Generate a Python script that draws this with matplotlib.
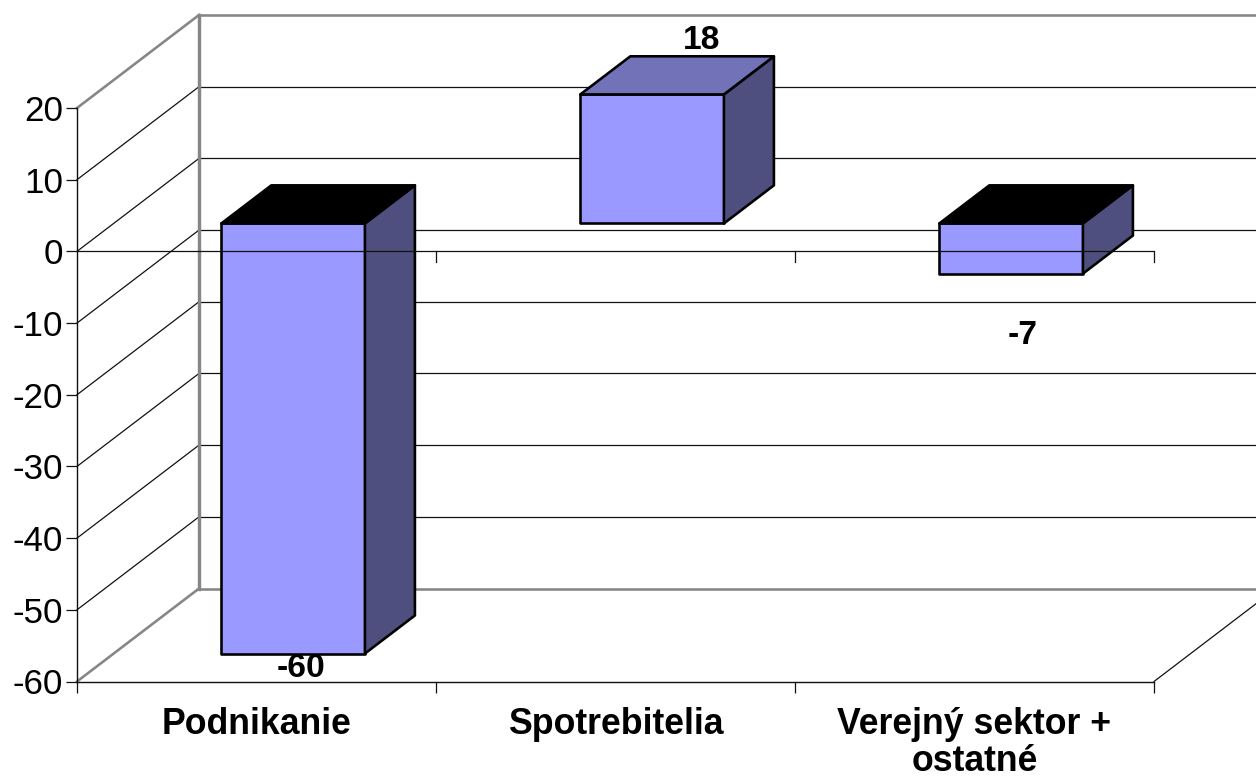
"""3D-style column chart drawn on a flat axes with a sheared depth offset."""

import matplotlib

matplotlib.use("Agg")
import matplotlib.pyplot as plt
from matplotlib.patches import Polygon

CATEGORIES = ["Podnikanie", "Spotrebitelia", "Verejný sektor +\nostatné"]
VALUES = [-60, 18, -7]
Y_TICKS = [20, 10, 0, -10, -20, -30, -40, -50, -60]

FIG_W, FIG_H = 1256, 780
AX_LEFT, AX_RIGHT, AX_TOP, AX_BOTTOM = 77, 1154, 108, 681.5

# full depth of the box, in data units
DEPTH_X = 122 / ((AX_RIGHT - AX_LEFT) / 3)
DEPTH_Y = 93 / ((AX_BOTTOM - AX_TOP) / 80)
BAR_WIDTH = 0.40
BAR_D0, BAR_D1 = 0.30, 0.71

FRONT = "#9999FF"
SIDE = "#4F4F7F"
TOP = "#7272B8"
WALL = "#868686"
THIN = "#111111"
FONT = 25.2
PX = 0.72

plt.rcParams["font.family"] = ["Liberation Sans", "DejaVu Sans"]
plt.rcParams["axes.unicode_minus"] = False


def proj(x, y, depth):
    return x + depth * DEPTH_X, y + depth * DEPTH_Y


fig = plt.figure(figsize=(FIG_W / 100, FIG_H / 100), dpi=100)
ax = fig.add_axes(
    [
        AX_LEFT / FIG_W,
        1 - AX_BOTTOM / FIG_H,
        (AX_RIGHT - AX_LEFT) / FIG_W,
        (AX_BOTTOM - AX_TOP) / FIG_H,
    ]
)
ax.set_xlim(0, 3)
ax.set_ylim(-60, 20)

# walls and gridlines
for v in Y_TICKS:
    edge = v in (20, -60)
    color = WALL if edge else THIN
    lw = 2.6 * PX if edge else 1.25 * PX
    x0, y0 = proj(0, v, 0)
    x1, y1 = proj(0, v, 1)
    x2, y2 = proj(3, v, 1)
    ax.plot([x0, x1], [y0, y1], color=color, lw=lw, clip_on=False, zorder=1)
    ax.plot([x1, x2], [y1, y2], color=color, lw=lw, clip_on=False, zorder=1)
x1, y1 = proj(0, -60, 1)
x2, y2 = proj(0, 20, 1)
ax.plot([x1, x2], [y1, y2], color=WALL, lw=3.4 * PX, clip_on=False, zorder=1.5)
x1, y1 = proj(3, -60, 1)
ax.plot([3, x1], [-60, y1], color=THIN, lw=1.25 * PX, clip_on=False, zorder=1)

# bars
for i, val in enumerate(VALUES):
    xl = i + 0.5 - BAR_WIDTH / 2
    xr = i + 0.5 + BAR_WIDTH / 2
    hi, lo = max(val, 0), min(val, 0)
    a = proj(xl, lo, BAR_D0)
    b = proj(xr, lo, BAR_D0)
    c = proj(xr, hi, BAR_D0)
    d = proj(xl, hi, BAR_D0)
    b2 = proj(xr, lo, BAR_D1)
    c2 = proj(xr, hi, BAR_D1)
    d2 = proj(xl, hi, BAR_D1)
    top_color = TOP if val > 0 else "black"
    for pts, fc in [([a, b, c, d], FRONT), ([b, b2, c2, c], SIDE), ([d, c, c2, d2], top_color)]:
        ax.add_patch(
            Polygon(pts, closed=True, facecolor=fc, edgecolor="black", lw=2.6 * PX,
                    joinstyle="round", clip_on=False, zorder=3)
        )

# zero axis runs in front of the bars
ax.axhline(0, color=THIN, lw=1.25 * PX, zorder=4)
for x in [1, 2, 3]:
    ax.plot([x, x], [0, -11 / 7.17], color=THIN, lw=1.25 * PX, clip_on=False, zorder=4)

# data labels
LABEL_POS = [(0.625, -58.2), (1.74, 29.45), (2.635, -11.7)]
for (x, y), val in zip(LABEL_POS, VALUES):
    ax.text(x, y, str(val), fontsize=FONT - 1, fontweight="bold", ha="center", va="center", zorder=5)

# real axis ticks and labels
for side in ("top", "right"):
    ax.spines[side].set_visible(False)
for side in ("left", "bottom"):
    ax.spines[side].set_linewidth(1.4 * PX)
    ax.spines[side].set_color(THIN)
    ax.spines[side].set_zorder(4)
ax.patch.set_visible(False)

ax.set_yticks(Y_TICKS)
ax.tick_params(axis="y", length=11 * PX, width=1.25 * PX, color=THIN, labelsize=FONT, pad=3 * PX)
ax.set_xticks([0, 1, 2, 3])
ax.set_xticklabels([])
ax.tick_params(axis="x", which="major", length=11 * PX, width=1.25 * PX, color=THIN)
ax.set_xticks([0.5, 1.5, 2.5], minor=True)
ax.set_xticklabels(CATEGORIES, minor=True, fontsize=25.7, fontweight="bold", linespacing=1.08)
ax.tick_params(axis="x", which="minor", length=0, pad=18.5)

fig.savefig("out.png", dpi=100)
